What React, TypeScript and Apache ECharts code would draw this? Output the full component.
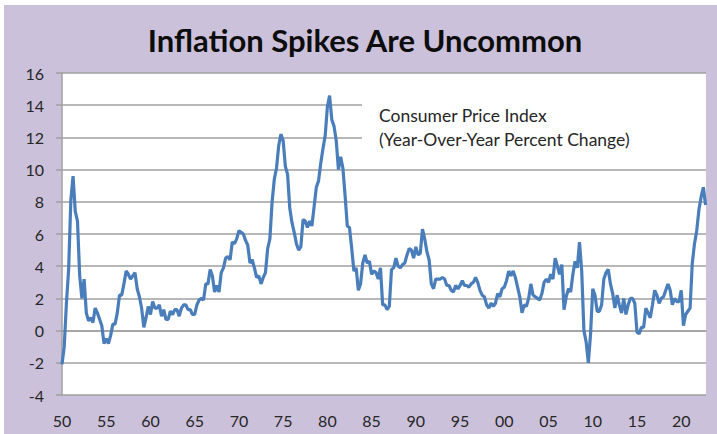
import React, { useEffect, useRef } from "react";
import * as echarts from "echarts";

// Consumer Price Index, year-over-year % change, sampled Jan / Apr / Jul / Oct
const startYear = 1950;
const cpi1950s = [
  -2.1, -1.0, 1.7, 3.8,
  8.1, 9.6, 7.4, 6.8,
  3.4, 2.0, 3.2, 1.1,
  0.6, 0.8, 0.5, 1.4,
  1.1, 0.7, 0.3, -0.8,
  -0.5, -0.8, -0.3, 0.4,
  0.4, 1.1, 2.2, 2.2,
  2.9, 3.7, 3.5, 3.2,
  3.4, 3.6, 2.6, 2.1,
  1.4, 0.2, 0.8, 1.5,
];
const cpi1960s = [
  1.0, 1.8, 1.4, 1.4,
  1.6, 0.9, 1.3, 0.7,
  0.7, 1.2, 1.0, 1.3,
  1.3, 0.9, 1.4, 1.6,
  1.6, 1.3, 1.3, 1.0,
  1.0, 1.6, 1.9, 2.0,
  1.9, 2.9, 2.9, 3.8,
  3.4, 2.4, 2.8, 2.4,
  3.6, 3.9, 4.5, 4.6,
  4.4, 5.5, 5.4, 5.7,
];
const cpi1970s = [
  6.2, 6.1, 6.0, 5.6,
  5.3, 4.2, 4.4, 3.9,
  3.3, 3.4, 2.9, 3.3,
  3.6, 5.1, 5.7, 8.0,
  9.4, 10.1, 11.5, 12.2,
  11.8, 10.2, 9.7, 7.6,
  6.7, 6.1, 5.4, 5.0,
  5.2, 6.9, 6.8, 6.4,
  6.8, 6.5, 7.7, 8.9,
  9.3, 10.4, 11.3, 12.1,
];
const cpi1980s = [
  13.9, 14.6, 13.1, 12.7,
  11.8, 10.0, 10.8, 10.1,
  8.4, 6.5, 6.4, 5.1,
  3.7, 3.9, 2.5, 2.9,
  4.2, 4.7, 4.2, 4.3,
  3.5, 3.7, 3.6, 3.2,
  3.9, 1.6, 1.6, 1.3,
  1.5, 3.8, 3.9, 4.5,
  4.0, 3.9, 4.1, 4.2,
  4.7, 5.1, 5.0, 4.5,
];
const cpi1990s = [
  5.2, 4.7, 4.8, 6.3,
  5.7, 4.9, 4.4, 2.9,
  2.6, 3.2, 3.2, 3.2,
  3.3, 3.2, 2.8, 2.8,
  2.5, 2.4, 2.8, 2.6,
  2.8, 3.1, 2.8, 2.8,
  2.7, 2.9, 3.0, 3.3,
  3.0, 2.5, 2.2, 2.1,
  1.6, 1.4, 1.7, 1.5,
  1.7, 2.3, 2.1, 2.6,
];
const cpi2000s = [
  2.7, 3.1, 3.7, 3.4,
  3.7, 3.3, 2.7, 2.1,
  1.1, 1.6, 1.5, 2.0,
  2.9, 2.2, 2.1, 2.0,
  1.9, 2.3, 3.0, 3.2,
  3.0, 3.5, 3.2, 4.5,
  4.0, 3.5, 4.1, 1.3,
  2.1, 2.6, 2.4, 3.5,
  4.3, 3.9, 5.5, 3.7,
  0.0, -0.7, -2.0, -0.2,
];
const cpi2010s = [
  2.6, 2.2, 1.2, 1.2,
  1.6, 3.2, 3.6, 3.8,
  2.9, 2.3, 1.4, 2.2,
  1.6, 1.1, 2.0, 1.0,
  1.6, 2.0, 2.0, 1.7,
  -0.1, -0.2, 0.2, 0.2,
  1.4, 1.1, 0.8, 1.6,
  2.5, 2.2, 1.7, 2.0,
  2.1, 2.5, 2.9, 2.5,
  1.6, 2.0, 1.8, 1.8,
];
const cpi2020s = [
  2.5, 0.3, 1.0, 1.2,
  1.4, 4.2, 5.4, 6.2,
  7.5, 8.3, 8.9, 7.8,
];

const yTicks = [-4, -2, 0, 2, 4, 6, 8, 10, 12, 14, 16];
const xLabelYears = [1950, 1955, 1960, 1965, 1970, 1975, 1980, 1985, 1990, 1995, 2000, 2005, 2010, 2015, 2020];
const titleText = "Inflation Spikes Are Uncommon";
const noteLines = ["Consumer Price Index", "(Year-Over-Year Percent Change)"];

const OX = 4;
const OY = 5;

export default function App() {
  const ref = useRef<HTMLDivElement>(null);
  useEffect(() => {
    if (!ref.current) return;
    const chart = echarts.init(ref.current, undefined, { renderer: "svg" });
    const all = [...cpi1950s, ...cpi1960s, ...cpi1970s, ...cpi1980s, ...cpi1990s, ...cpi2000s, ...cpi2010s, ...cpi2020s];
    const data = all.map((v, i) => [startYear + i / 4, v]);
    const font = "Lato, 'Open Sans', sans-serif";
    chart.setOption({
      animation: false,
      backgroundColor: "#CCC1DA",
      grid: { left: 62 - OX, top: 73 - OY, width: 644, height: 322, show: true, backgroundColor: "#ffffff", borderWidth: 0 },
      xAxis: {
        type: "value",
        min: 1950,
        max: 2022.8,
        interval: 5,
        axisLine: { show: true, lineStyle: { color: "#a0a0a0", width: 1.5 } },
        axisTick: { show: false },
        splitLine: { show: false },
        axisLabel: {
          margin: 17,
          fontSize: 16,
          fontFamily: font,
          color: "#262626",
          formatter: (v: number) => (xLabelYears.includes(v) ? String(v % 100).padStart(2, "0") : ""),
        },
      },
      yAxis: {
        type: "value",
        min: yTicks[0],
        max: yTicks[yTicks.length - 1],
        interval: 2,
        axisLine: { show: true, lineStyle: { color: "#a0a0a0", width: 1.5 } },
        axisTick: { show: true, length: 6, lineStyle: { color: "#a0a0a0", width: 1.5 } },
        splitLine: { show: true, lineStyle: { color: "#a0a0a0", width: 1.5 } },
        axisLabel: { margin: 18, fontSize: 16, fontFamily: font, color: "#262626" },
      },
      series: [
        {
          type: "line",
          data,
          showSymbol: false,
          symbol: "none",
          lineStyle: { color: "#4a7ebb", width: 3.2 },
          z: 5,
        },
      ],
      graphic: [
        {
          type: "rect",
          z: 10,
          shape: { x: 362 - OX, y: 78 - OY, width: 344, height: 85 },
          style: { fill: "#ffffff" },
        },
        {
          type: "text",
          z: 11,
          x: 379 - OX,
          y: 106 - OY,
          style: { text: noteLines[0], fontSize: 17.5, fontFamily: font, fill: "#262626", verticalAlign: "top" },
        },
        {
          type: "text",
          z: 11,
          x: 379 - OX,
          y: 130 - OY,
          style: { text: noteLines[1], fontSize: 17.5, fontFamily: font, fill: "#262626", verticalAlign: "top" },
        },
        {
          type: "text",
          z: 11,
          x: 365 - OX,
          y: 24 - OY,
          style: {
            text: titleText,
            fontSize: 31,
            fontWeight: "bold",
            fontFamily: font,
            fill: "#0d0d0d",
            align: "center",
            verticalAlign: "top",
          },
        },
      ],
    });
    return () => chart.dispose();
  }, []);
  return (
    <div style={{ position: "fixed", left: 0, top: 0, width: 717, height: 434, background: "#ffffff" }}>
      <div ref={ref} style={{ position: "absolute", left: OX, top: OY, width: 717 - OX, height: 434 - OY }} />
    </div>
  );
}
